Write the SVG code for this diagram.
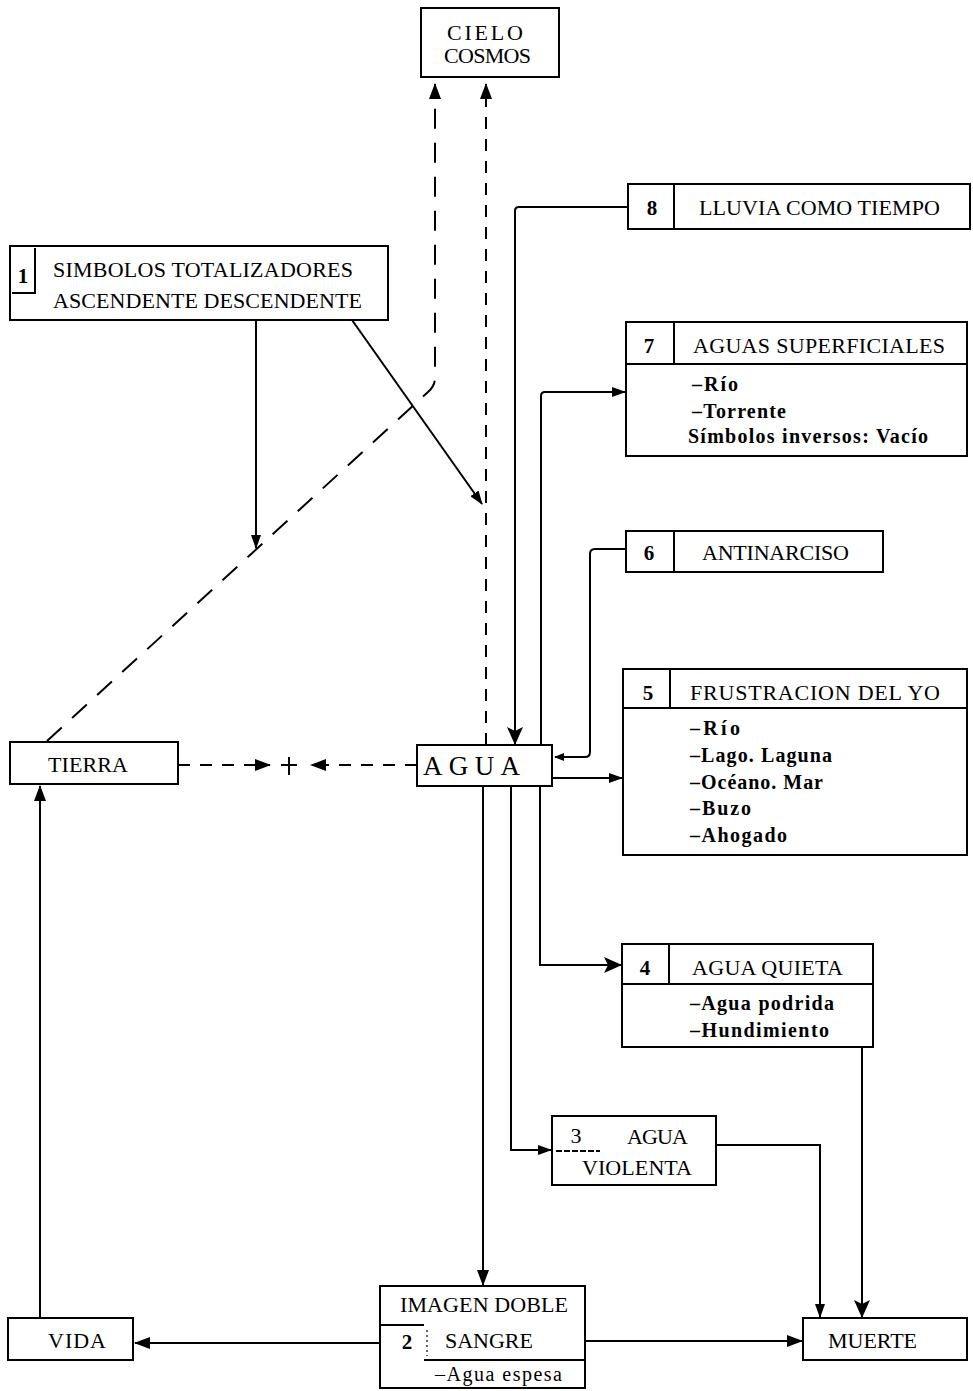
<svg xmlns="http://www.w3.org/2000/svg" width="973" height="1391" viewBox="0 0 973 1391">
<style>
.box{fill:#fff;stroke:#000;stroke-width:2}
.ln{fill:none;stroke:#000;stroke-width:2}
.c{fill:none;stroke:#000;stroke-width:2}
.d{fill:none;stroke:#000;stroke-width:2;stroke-dasharray:12 10}
.dd{fill:none;stroke:#000;stroke-width:2;stroke-dasharray:20 14}
text{font-family:"Liberation Serif","Times New Roman",serif;fill:#000}
.t{font-size:22px}
.i{font-size:20px;font-weight:bold}
.r{font-size:20px}
.n{font-size:21px;font-weight:bold;text-anchor:middle}
.m{text-anchor:middle}
</style>
<defs>
<marker id="a" viewBox="0 0 14 10" refX="13" refY="5" markerWidth="14" markerHeight="10" markerUnits="userSpaceOnUse" orient="auto"><path d="M0,0 L14,5 L0,10 z" fill="#000" stroke="none"/></marker>
<marker id="b" viewBox="0 0 18 16" refX="17" refY="8" markerWidth="18" markerHeight="16" markerUnits="userSpaceOnUse" orient="auto"><path d="M0,0 L18,8 L0,16 L4,8 z" fill="#000" stroke="none"/></marker>
<marker id="m" viewBox="0 0 16 12" refX="15" refY="6" markerWidth="16" markerHeight="12" markerUnits="userSpaceOnUse" orient="auto"><path d="M0,0 L16,6 L0,12 z" fill="#000" stroke="none"/></marker>
<marker id="s" viewBox="0 0 10 8" refX="9" refY="4" markerWidth="10" markerHeight="8" markerUnits="userSpaceOnUse" orient="auto"><path d="M0,0 L10,4 L0,8 z" fill="#000" stroke="none"/></marker>
</defs>

<g id="connectors">
<path class="dd" d="M47,741 L428,392 Q435,386 435,378 L435,84" marker-end="url(#m)"/>
<path class="d" d="M486,745 L486,84" marker-end="url(#m)"/>
<path class="c" d="M256,320 L256,548" marker-end="url(#a)"/>
<path class="c" d="M352,320 L482,504" marker-end="url(#a)"/>
<path class="c" d="M628,207 L519,207 Q515,207 515,211 L515,744" marker-end="url(#b)"/>
<path class="c" d="M541,745 L541,396 Q541,392 545,392 L625,392" marker-end="url(#a)"/>
<path class="c" d="M626,549 L595,549 Q590,549 590,554 L590,752 Q590,757 585,757 L555,757" marker-end="url(#s)"/>
<path class="c" d="M553,778 L622,778" marker-end="url(#a)"/>
<path class="c" d="M540,786 L540,965 L621,965" marker-end="url(#b)"/>
<path class="c" d="M511,786 L511,1150 L551,1150" marker-end="url(#a)"/>
<path class="c" d="M483,786 L483,1285" marker-end="url(#m)"/>
<path class="c" d="M716,1145 L820,1145 L820,1317" marker-end="url(#a)"/>
<path class="c" d="M862,1047 L862,1317" marker-end="url(#b)"/>
<path class="c" d="M585,1341 L802,1341" marker-end="url(#m)"/>
<path class="c" d="M380,1343 L135,1343" marker-end="url(#m)"/>
<path class="c" d="M40,1318 L40,786" marker-end="url(#m)"/>
<path class="d" d="M178,765 L270,765" marker-end="url(#m)"/>
<path class="d" d="M417,765 L311,765" marker-end="url(#m)"/>
<path class="c" d="M281,765 L297,765 M289,757 L289,775"/>
</g>

<g id="cielo">
<rect class="box" x="421" y="8" width="138" height="69"/>
<text class="t" x="447" y="40" textLength="76">CIELO</text>
<text class="t" x="444" y="63" textLength="87">COSMOS</text>
</g>

<g id="n1">
<rect class="box" x="10" y="246" width="378" height="74"/>
<path class="ln" d="M35,248 L35,293 L12,293"/>
<text class="n" x="23" y="283">1</text>
<text class="t" x="53" y="277" textLength="300">SIMBOLOS TOTALIZADORES</text>
<text class="t" x="53" y="308" textLength="309">ASCENDENTE DESCENDENTE</text>
</g>

<g id="n8">
<rect class="box" x="628" y="184" width="342" height="45"/>
<path class="ln" d="M674,184 L674,229"/>
<text class="n" x="652" y="215">8</text>
<text class="t" x="699" y="215" textLength="241">LLUVIA COMO TIEMPO</text>
</g>

<g id="n7">
<rect class="box" x="626" y="322" width="341" height="134"/>
<path class="ln" d="M626,364 L967,364 M674,322 L674,364"/>
<text class="n" x="649" y="353">7</text>
<text class="t" x="693" y="353" textLength="252">AGUAS SUPERFICIALES</text>
<text class="i" x="692" y="391" textLength="46">–Río</text>
<text class="i" x="692" y="418" textLength="94">–Torrente</text>
<text class="i" x="688" y="443" textLength="240">Símbolos inversos: Vacío</text>
</g>

<g id="n6">
<rect class="box" x="626" y="531" width="257" height="41"/>
<path class="ln" d="M674,531 L674,572"/>
<text class="n" x="649" y="560">6</text>
<text class="t" x="702" y="560" textLength="147">ANTINARCISO</text>
</g>

<g id="n5">
<rect class="box" x="623" y="669" width="344" height="186"/>
<path class="ln" d="M623,708 L967,708 M670,669 L670,708"/>
<text class="n" x="648" y="700">5</text>
<text class="t" x="690" y="700" textLength="250">FRUSTRACION DEL YO</text>
<text class="i" x="690" y="735" textLength="50">–Río</text>
<text class="i" x="690" y="762" textLength="142">–Lago. Laguna</text>
<text class="i" x="690" y="789" textLength="133">–Océano. Mar</text>
<text class="i" x="690" y="815" textLength="61">–Buzo</text>
<text class="i" x="690" y="842" textLength="97">–Ahogado</text>
</g>

<g id="agua">
<rect class="box" x="417" y="745" width="135" height="41"/>
<text x="423" y="775" font-size="27" textLength="97">AGUA</text>
</g>

<g id="tierra">
<rect class="box" x="10" y="742" width="168" height="42"/>
<text class="t" x="48" y="772" textLength="80">TIERRA</text>
</g>

<g id="n4">
<rect class="box" x="622" y="944" width="251" height="103"/>
<path class="ln" d="M622,984 L873,984 M669,944 L669,984"/>
<text class="n" x="645" y="975">4</text>
<text class="t" x="692" y="975" textLength="151">AGUA QUIETA</text>
<text class="i" x="690" y="1010" textLength="144">–Agua podrida</text>
<text class="i" x="690" y="1037" textLength="139">–Hundimiento</text>
</g>

<g id="n3">
<rect class="box" x="552" y="1116" width="164" height="69"/>
<path class="ln" d="M556,1151 L600,1151" stroke-dasharray="6 2" stroke-width="1.2"/>
<text class="t m" x="576" y="1143">3</text>
<text class="t" x="627" y="1144" textLength="61">AGUA</text>
<text class="t" x="582" y="1175" textLength="110">VIOLENTA</text>
</g>

<g id="n2">
<rect class="box" x="380" y="1286" width="205" height="102"/>
<path class="ln" d="M380,1325 L424,1325 M424,1360 L585,1360"/>
<path d="M427,1330 L427,1356" stroke="#000" stroke-width="1.2" stroke-dasharray="2 3" fill="none"/>
<text class="t" x="400" y="1312" textLength="168">IMAGEN DOBLE</text>
<text class="n" x="407" y="1349">2</text>
<text class="t" x="445" y="1348" textLength="88">SANGRE</text>
<text class="r" x="435" y="1381" textLength="127">–Agua espesa</text>
</g>

<g id="muerte">
<rect class="box" x="803" y="1318" width="164" height="42"/>
<text class="t" x="828" y="1348" textLength="89">MUERTE</text>
</g>

<g id="vida">
<rect class="box" x="8" y="1318" width="125" height="42" stroke-width="1.5"/>
<text class="t" x="48" y="1348" textLength="58">VIDA</text>
</g>
</svg>
